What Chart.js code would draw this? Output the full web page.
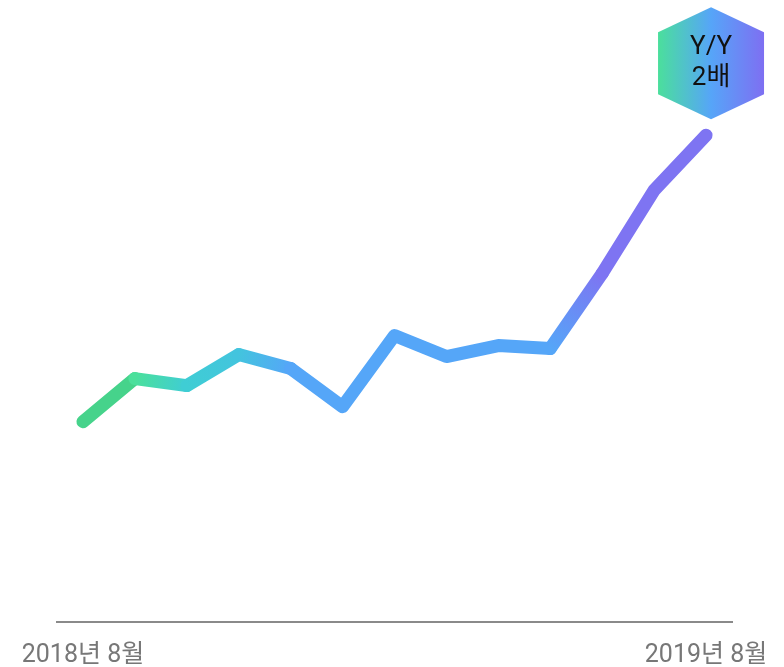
<!DOCTYPE html>
<html>
<head>
<meta charset="utf-8">
<script src="https://cdn.jsdelivr.net/npm/chart.js@4/dist/chart.umd.min.js"></script>
<style>
  html, body { margin: 0; padding: 0; background: #fff; }
  #wrap { width: 784px; height: 667px; }
</style>
</head>
<body>
<div id="wrap"><canvas id="chart" width="784" height="667"></canvas></div>
<script>
// monthly index, Aug 2018 = 100
const months = ["2018년 8월", "9월", "10월", "11월", "12월", "2019년 1월", "2월", "3월", "4월", "5월", "6월", "7월", "2019년 8월"];
const values = [100, 121.5, 118, 133.5, 126.5, 107.5, 143, 132.5, 138, 136.5, 174, 215.5, 243];
const shownTicks = ["2018년 8월", "2019년 8월"];
const badgeLines = ["Y/Y", "2배"];

// start / end colour for each line segment
const segColors = [
    ["#46d38b", "#46d38b"],
    ["#4be09b", "#3fcdd4"],
    ["#3fcdd4", "#43c4de"],
    ["#43c4de", "#55a6f8"],
    ["#55a6f8", "#55a6f8"],
    ["#55a6f8", "#55a6f8"],
    ["#55a6f8", "#55a6f8"],
    ["#55a6f8", "#55a6f8"],
    ["#55a6f8", "#55a6f8"],
    ["#55a6f8", "#7e74f2"],
    ["#7e74f2", "#7e74f2"],
    ["#7e74f2", "#7e74f2"],
];

const FONT = "Roboto, 'Noto Sans CJK KR', sans-serif";

function segGradient(ctx) {
    const [c0, c1] = segColors[ctx.p0DataIndex];
    if (c0 === c1) return c0;
    const g = ctx.chart.ctx.createLinearGradient(ctx.p0.x, ctx.p0.y, ctx.p1.x, ctx.p1.y);
    g.addColorStop(0, c0);
    g.addColorStop(1, c1);
    return g;
}

const badgePlugin = {
    id: "badge",
    afterDatasetsDraw(chart) {
        const pts = chart.getDatasetMeta(0).data;
        const last = pts[pts.length - 1];
        const cx = last.x + 5, cy = last.y - 72;
        const ctx = chart.ctx;
        const w = 53, h = 56, s = 31;
        ctx.save();
        const g = ctx.createLinearGradient(cx - w, 0, cx + w, 0);
        g.addColorStop(0, "#4bdf9c");
        g.addColorStop(0.5, "#56a5f8");
        g.addColorStop(1, "#7e6ff2");
        ctx.fillStyle = g;
        ctx.beginPath();
        ctx.moveTo(cx, cy - h);
        ctx.lineTo(cx + w, cy - s);
        ctx.lineTo(cx + w, cy + s);
        ctx.lineTo(cx, cy + h);
        ctx.lineTo(cx - w, cy + s);
        ctx.lineTo(cx - w, cy - s);
        ctx.closePath();
        ctx.fill();
        ctx.fillStyle = "#111";
        ctx.font = "26px " + FONT;
        ctx.textAlign = "center";
        ctx.textBaseline = "middle";
        ctx.fillText(badgeLines[0], cx, cy - 16);
        ctx.fillText(badgeLines[1], cx, cy + 15);
        ctx.restore();
    }
};

new Chart(document.getElementById("chart"), {
    type: "line",
    data: {
        labels: months,
        datasets: [{
            data: values,
            borderColor: "#55a6f8",
            borderWidth: 13,
            borderCapStyle: "round",
            borderJoinStyle: "round",
            pointRadius: 0,
            tension: 0,
            clip: false,
            segment: { borderColor: segGradient },
        }],
    },
    options: {
        responsive: false,
        animation: false,
        layout: { padding: { left: 57, right: 52, top: 21, bottom: -23 } },
        plugins: {
            legend: { display: false },
            tooltip: { enabled: false },
        },
        scales: {
            x: {
                offset: true,
                grid: { display: false, drawTicks: false },
                border: { display: true, color: "#8a8a8a", width: 2 },
                ticks: {
                    autoSkip: false,
                    maxRotation: 0,
                    padding: 19,
                    color: "#777",
                    font: { family: FONT, size: 25, lineHeight: 1.2 },
                    callback(v, i) {
                        const l = months[i];
                        return shownTicks.includes(l) ? l : "";
                    },
                },
                // labels may hang outside the plot, don't shrink it for them
                afterFit(scale) {
                    scale.paddingLeft = 0;
                    scale.paddingRight = 0;
                },
            },
            y: { display: false, min: 0, max: 300 },
        },
    },
    plugins: [badgePlugin],
});
</script>
</body>
</html>
